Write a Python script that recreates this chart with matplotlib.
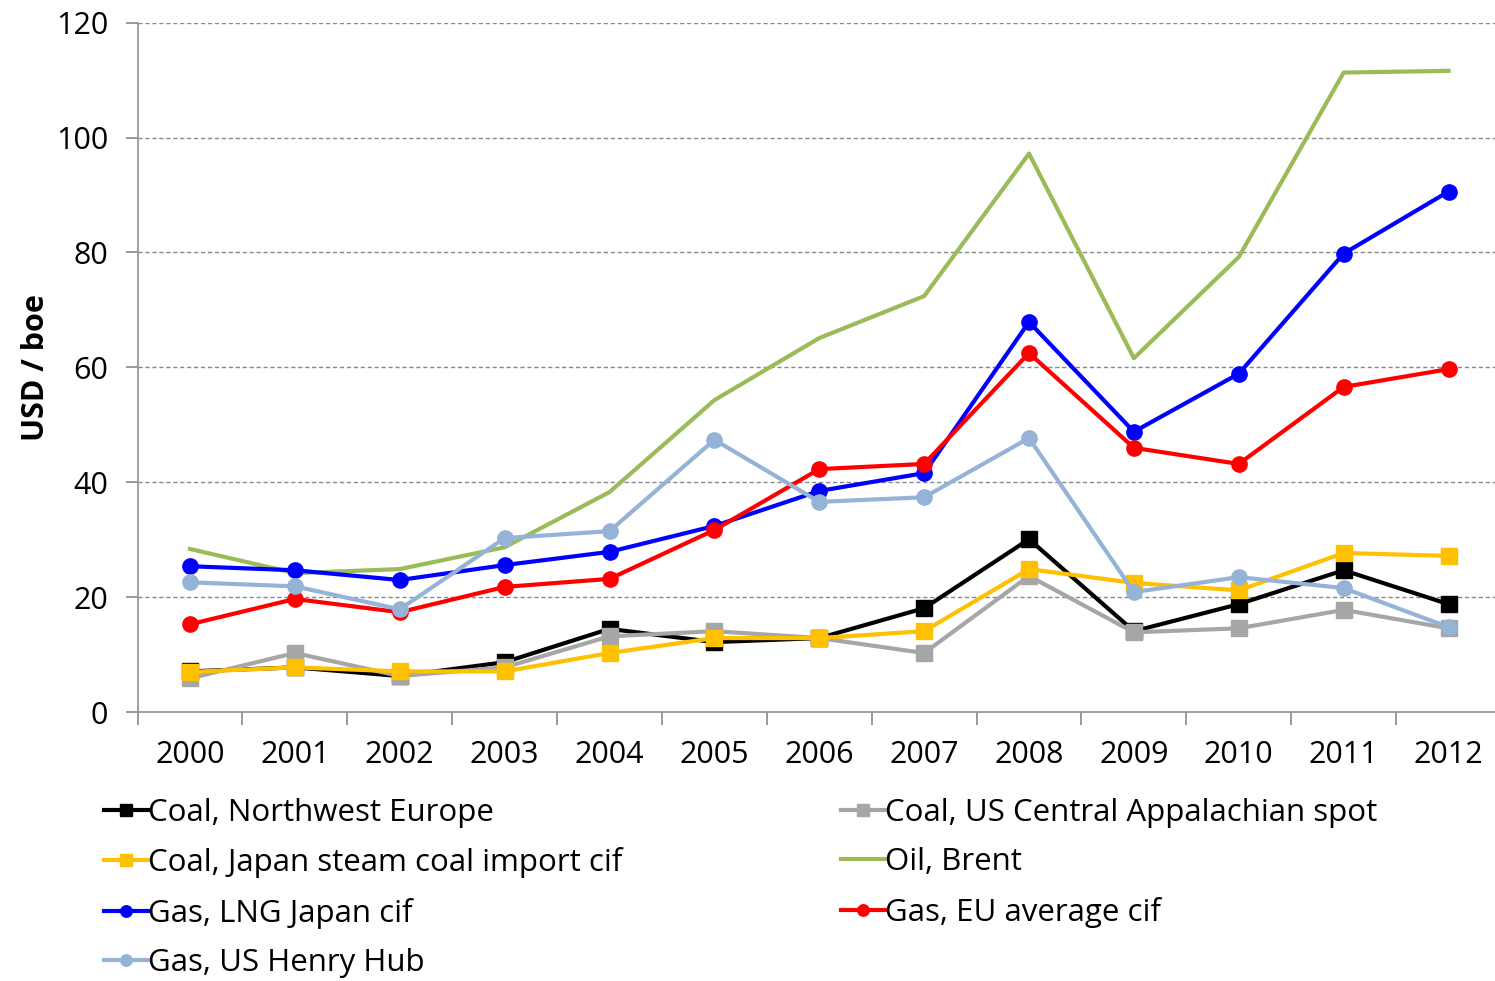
import numpy as np
import matplotlib
matplotlib.use("Agg")
import matplotlib.pyplot as plt
from matplotlib.ticker import FixedLocator

years = ["2000", "2001", "2002", "2003", "2004", "2005", "2006",
         "2007", "2008", "2009", "2010", "2011", "2012"]

coal_nwe = [7.1, 7.8, 6.3, 8.7, 14.5, 12.2, 12.9, 18.1, 30.1, 14.1, 18.8, 24.7, 18.8]
coal_us_app = [5.9, 10.3, 6.3, 7.8, 13.2, 14.1, 12.9, 10.3, 23.7, 13.9, 14.6, 17.8, 14.6]
coal_japan = [7.0, 7.8, 7.1, 7.1, 10.3, 12.9, 12.9, 14.1, 24.9, 22.5, 21.2, 27.7, 27.2]
oil_brent = [28.4, 24.2, 24.9, 28.7, 38.3, 54.3, 65.1, 72.4, 97.2, 61.6, 79.2, 111.3, 111.6]
gas_lng_japan = [25.4, 24.7, 23.0, 25.6, 27.9, 32.4, 38.5, 41.6, 67.9, 48.8, 58.9, 79.8, 90.6]
gas_eu = [15.3, 19.7, 17.4, 21.8, 23.2, 31.7, 42.3, 43.2, 62.5, 46.0, 43.2, 56.6, 59.7]
gas_henry_hub = [22.6, 21.9, 17.9, 30.3, 31.5, 47.4, 36.6, 37.4, 47.7, 20.9, 23.5, 21.6, 14.8]

plt.rcParams['font.family'] = ['Open Sans', 'DejaVu Sans']

fig = plt.figure(figsize=(14.95, 9.81), dpi=100)
ax = fig.add_axes([0.092, 0.274, 0.912, 0.703])

x = np.arange(len(years))

# label, data, colour, marker
series = [
    ("Coal, Northwest Europe", coal_nwe, "#000000", "s"),
    ("Coal, US Central Appalachian spot", coal_us_app, "#a6a6a6", "s"),
    ("Coal, Japan steam coal import cif", coal_japan, "#ffc000", "s"),
    ("Oil, Brent", oil_brent, "#9bbb59", None),
    ("Gas, LNG Japan cif", gas_lng_japan, "#0000ff", "o"),
    ("Gas, EU average cif", gas_eu, "#ff0000", "o"),
    ("Gas, US Henry Hub", gas_henry_hub, "#95b3d7", "o"),
]

handles = {}
for label, data, col, mk in series:
    h, = ax.plot(x, data, color=col, lw=3.0, marker=mk, markersize=11,
                 markeredgecolor=col, label=label)
    handles[label] = h

ax.set_xlim(-0.5, 12.5)
ax.set_ylim(0, 120)
ax.set_yticks(np.arange(0, 121, 20))
ax.set_xticks(x)
ax.set_xticklabels(years)
ax.xaxis.set_minor_locator(FixedLocator(np.arange(-0.5, 12.6, 1)))
ax.tick_params(axis="x", which="major", length=0, labelsize=22, pad=20)
ax.tick_params(axis="x", which="minor", length=9, color="#888888", width=1.2)
ax.tick_params(axis="y", length=9, color="#888888", width=1.2, labelsize=22, pad=12)

ax.grid(axis="y", linestyle=(0, (3, 2)), color="#888888", lw=1)
ax.set_axisbelow(True)
for s in ["top", "right"]:
    ax.spines[s].set_visible(False)
for s in ["left", "bottom"]:
    ax.spines[s].set_color("#999999")
    ax.spines[s].set_linewidth(1.3)

ax.set_ylabel("USD / boe", fontsize=22, fontweight="bold", labelpad=4)

# legend, two columns filled row by row like the original
order = ["Coal, Northwest Europe", "Coal, Japan steam coal import cif",
         "Gas, LNG Japan cif", "Gas, US Henry Hub",
         "Coal, US Central Appalachian spot", "Oil, Brent", "Gas, EU average cif"]
fig.legend([handles[k] for k in order], order, ncol=2, frameon=False,
           loc="upper left", bbox_to_anchor=(0.055, 0.209), fontsize=22.5,
           handlelength=1.4, handletextpad=0.0, columnspacing=7.0,
           labelspacing=0.62, markerscale=0.75, borderpad=0.2)

fig.savefig("out.png", dpi=100)
